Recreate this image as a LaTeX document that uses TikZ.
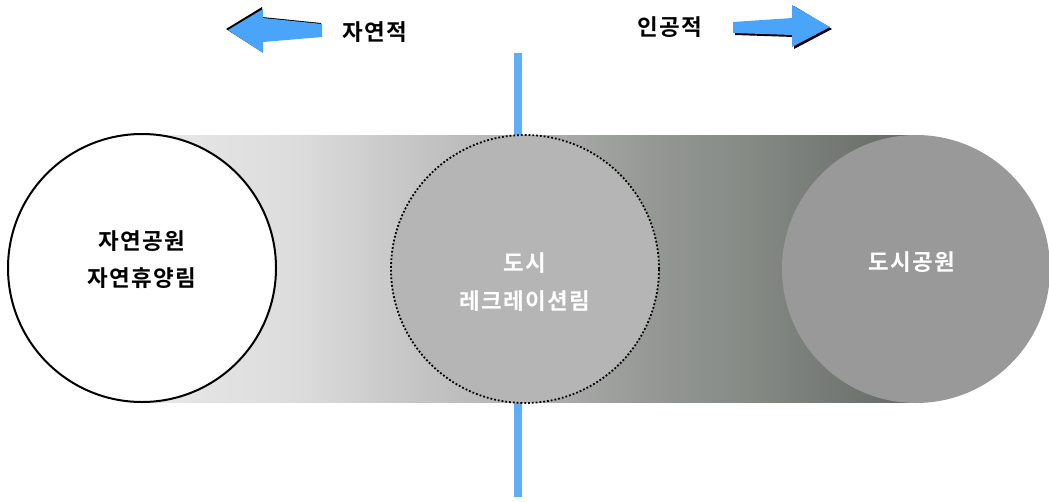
\documentclass[tikz,border=0pt]{standalone}
\usepackage{fontspec}
\newfontfamily\kr{Noto Sans CJK KR Bold}[LetterSpace=6]
\definecolor{bluel}{HTML}{60AEF8}
\definecolor{arrowblue}{HTML}{4AA4FA}
\definecolor{midc}{HTML}{B5B5B5}
\definecolor{rightc}{HTML}{999999}
\definecolor{s0}{HTML}{E8E8E8}
\definecolor{s1}{HTML}{DCDCDC}
\definecolor{s2}{HTML}{C8C8C8}
\definecolor{s3}{HTML}{B2B2B2}
\definecolor{s4}{HTML}{959895}
\definecolor{s5}{HTML}{858A85}
\definecolor{s6}{HTML}{6C706C}
\definecolor{s7}{HTML}{626562}
\pgfdeclarehorizontalshading{bandshade}{100bp}{
  color(0bp)=(s0);
  color(25bp)=(s0);
  color(35bp)=(s1);
  color(41.5bp)=(s2);
  color(49.5bp)=(s3);
  color(57.8bp)=(s4);
  color(64.3bp)=(s5);
  color(72.7bp)=(s6);
  color(75bp)=(s7);
  color(100bp)=(s7)}
\tikzset{
  lbl/.style={font=\kr\fontsize{22.5}{26}\selectfont, inner sep=0pt},
  circ/.style={circle, minimum size=268pt, inner sep=0pt},
}
\begin{document}
\begin{tikzpicture}[x=1pt,y=-1pt]
\useasboundingbox (0,0) rectangle (1049,501);
% vertical line
\coordinate (vt) at (518,53);
\coordinate (vb) at (518,497);
\draw[bluel, line width=8pt] (vt) -- (vb);
% band
\shade[shading=bandshade] (145,135) rectangle (915,402);
% circles
\node[circ, draw=black, line width=2pt, fill=white] (left) at (142,268) {};
\node[circ, draw=black, dotted, line width=1.8pt, fill=midc] (mid) at (525,269) {};
\node[circ, fill=rightc] (right) at (916,269) {};
% texts in circles
\node[lbl] (t1) at (142,241) {자연공원};
\node[lbl] (t2) at (142,278) {자연휴양림};
\node[lbl, white] (t3) at (525,263) {도시};
\node[lbl, white] (t4) at (525,301) {레크레이션림};
\node[lbl, white] (t5) at (912,262) {도시공원};
% left arrow
\fill[black] (226,29) -- (262,7) -- (262,17) -- (321,23) -- (321,36) -- (262,41) -- (262,52) -- cycle;
\fill[arrowblue] (228,30) -- (263,9) -- (263,18) -- (322,24) -- (322,37) -- (263,42) -- (263,53) -- cycle;
\node[lbl] (nat) at (375,32) {자연적};
% right arrow
\fill[black] (735,23) -- (794,19) -- (794,6) -- (832,29) -- (794,49) -- (794,37) -- (735,35) -- cycle;
\fill[arrowblue] (733,22) -- (792,18) -- (792,5) -- (830,27) -- (792,47) -- (792,35) -- (733,33) -- cycle;
\node[lbl] (art) at (670,27) {인공적};
\end{tikzpicture}
\end{document}
